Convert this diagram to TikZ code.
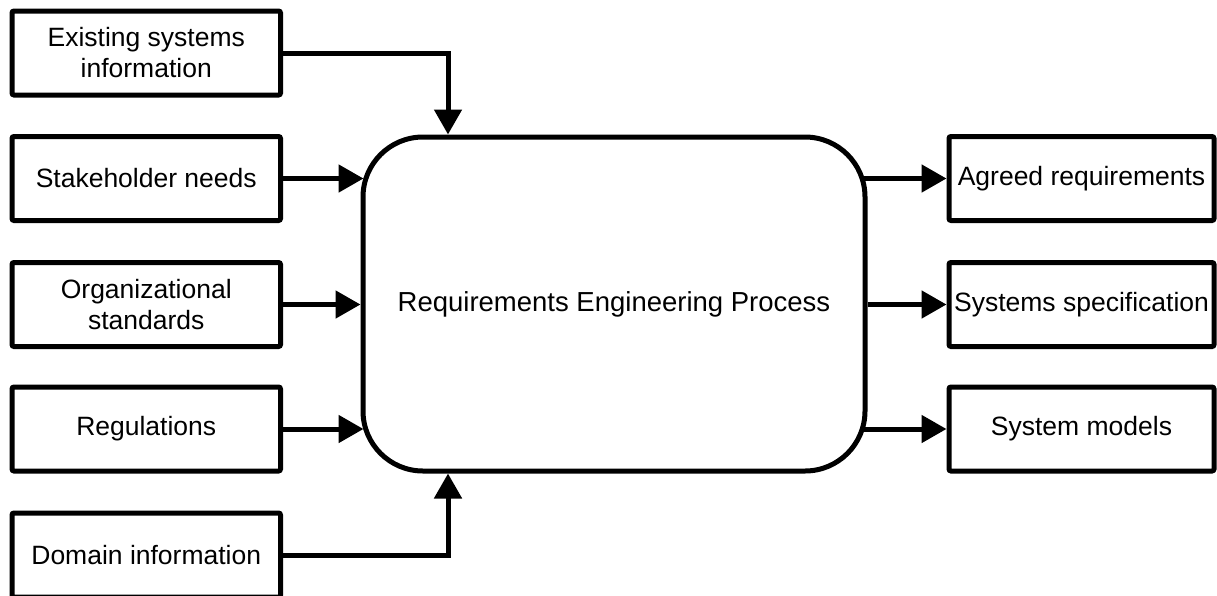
\documentclass[tikz,border=0pt]{standalone}
\usepackage{fontspec}
\setmainfont{Liberation Sans}
\usetikzlibrary{arrows.meta}

\tikzset{
  iobox/.style={draw, line width=5pt, rounded corners=2pt, align=center,
    minimum height=84pt, inner sep=0pt,
    font=\fontsize{26.5}{31}\selectfont},
  inbox/.style={iobox, minimum width=268.5pt},
  outbox/.style={iobox, minimum width=265pt},
  process/.style={draw, line width=5pt, rounded corners=60pt,
    minimum width=502pt, minimum height=334pt, inner sep=0pt,
    font=\fontsize{27.5}{32}\selectfont},
  flow/.style={line width=5pt, -{Triangle[length=25pt,width=27pt]}}
}

\begin{document}
\begin{tikzpicture}[x=1pt, y=-1pt]
  \useasboundingbox (0,0) rectangle (1217,595);

  % central process
  \node[process] (rep) at (614,304) {Requirements Engineering Process};

  % inputs
  \node[inbox] (exist) at (146.25,53)    {Existing systems\\information};
  \node[inbox] (stake) at (146.25,178.5) {Stakeholder needs};
  \node[inbox] (org)   at (146.25,304.5) {Organizational\\standards};
  \node[inbox] (reg)   at (146.25,429)   {Regulations};
  \node[inbox] (dom)   at (146.25,555)   {Domain information};

  % outputs
  \node[outbox] (agreed) at (1081.5,178.5) {Agreed requirements};
  \node[outbox] (spec)   at (1081.5,304.5) {Systems specification};
  \node[outbox] (models) at (1081.5,429)   {System models};

  % input flows
  \coordinate (topin) at (448,0);
  \draw[flow] (exist.east) -| (topin |- rep.north);
  \draw[flow] (stake.east) -- ([xshift=3pt]stake.east -| rep.west);
  \draw[flow] (org.east)   -- (org.east -| rep.west);
  \draw[flow] (reg.east)   -- ([xshift=3pt]reg.east -| rep.west);
  \draw[flow] (dom.east)   -| (topin |- rep.south);

  % output flows
  \draw[flow] ([xshift=-5pt]agreed.west -| rep.east) -- (agreed.west);
  \draw[flow] (spec.west -| rep.east) -- (spec.west);
  \draw[flow] ([xshift=-5pt]models.west -| rep.east) -- (models.west);
\end{tikzpicture}
\end{document}
